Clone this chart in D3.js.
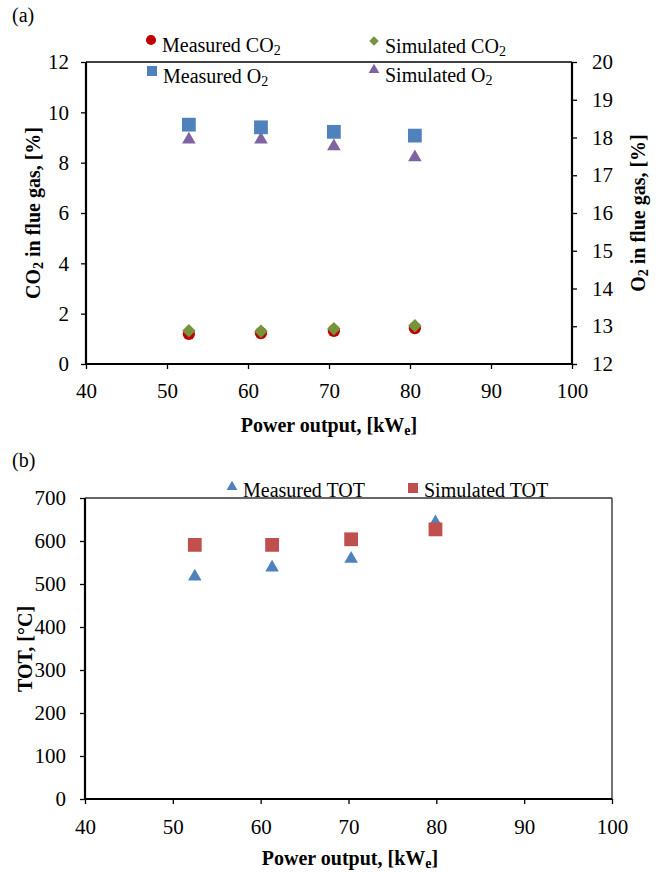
<!DOCTYPE html>
<html>
<head>
<meta charset="utf-8">
<script src="https://cdn.jsdelivr.net/npm/d3@7"></script>
<style>
  body { margin: 0; background: #fff; }
  svg text { font-family: "Liberation Serif", "Times New Roman", serif; }
</style>
</head>
<body>
<div id="chart"></div>
<script>
// Data
const powerA = [52.7, 61.6, 70.6, 80.6];
const measuredCO2 = [1.2, 1.23, 1.32, 1.43];
const simulatedCO2 = [1.32, 1.3, 1.4, 1.52];
const measuredO2 = [18.34, 18.27, 18.15, 18.05];
const simulatedO2 = [18.0, 18.0, 17.82, 17.53];

const powerB = [52.5, 61.3, 70.3, 79.9];
const measuredTOT = [522, 543, 563, 648];
const simulatedTOT = [591, 591, 604, 627];

const xTicks = [40, 50, 60, 70, 80, 90, 100];
const co2Ticks = [0, 2, 4, 6, 8, 10, 12];
const o2Ticks = [12, 13, 14, 15, 16, 17, 18, 19, 20];
const totTicks = [0, 100, 200, 300, 400, 500, 600, 700];

const width = 664, height = 873;
const fontSize = 20;
const tickFont = 21;

const colors = {
    mCO2: "#C00000",
    sCO2: "#77933C",
    mO2: "#4F81BD",
    sO2: "#8064A2",
    mTOT: "#4F81BD",
    sTOT: "#C0504D"
};

var svg = d3.select("#chart").append("svg")
    .attr("width", width)
    .attr("height", height);

// marker shapes
const sym = {
    circle: d3.symbol().type(d3.symbolCircle).size(120),
    square: d3.symbol().type(d3.symbolSquare).size(190),
    triangle: d3.symbol().type(d3.symbolTriangle).size(80),
    diamond: d3.symbol().type(d3.symbolSquare).size(90)
};

// triangles are centred on their bounding box like Excel markers, not the centroid
function shapeTransform(shape, px, py) {
    if (shape == "diamond") return "translate(" + px + "," + py + ") rotate(45)";
    if (shape == "triangle") return "translate(" + px + "," + (py + 2) + ")";
    return "translate(" + px + "," + py + ")";
}

function drawPoints(g, xs, ys, x, y, shape, color) {
    g.selectAll(null)
        .data(xs.map(function (d, i) { return [d, ys[i]]; }))
        .enter().append("path")
        .attr("d", sym[shape])
        .attr("fill", color)
        .attr("transform", function (d) {
            return shapeTransform(shape, x(d[0]), y(d[1]));
        });
}

// text with subscript helper: parts = [[text, isSub, dy], ...]
function richText(g, px, py, parts, opts) {
    opts = opts || {};
    var fs = opts.size || fontSize;
    var t = g.append("text")
        .attr("x", px).attr("y", py)
        .style("font-size", fs + "px")
        .style("font-weight", opts.bold ? "bold" : "normal")
        .attr("text-anchor", opts.anchor || "start")
        .attr("fill", "#000");
    if (opts.rotate) t.attr("transform", "rotate(-90," + px + "," + py + ")");
    parts.forEach(function (p) {
        if (p[1]) {
            t.append("tspan").style("font-size", Math.round(fs * 0.68) + "px")
                .attr("dy", 3).text(p[0]);
        } else {
            t.append("tspan").attr("dy", p[2] || 0).text(p[0]);
        }
    });
    return t;
}

function styleAxis(a) {
    a.select(".domain").remove();
    a.selectAll("line").attr("stroke", "#000").attr("stroke-width", 1.3);
    a.selectAll("text")
        .style("font-family", "'Liberation Serif', 'Times New Roman', serif")
        .style("font-size", tickFont + "px")
        .attr("fill", "#000");
}

function frameLine(g, x1, y1, x2, y2, color, w) {
    g.append("line").attr("x1", x1).attr("x2", x2).attr("y1", y1).attr("y2", y2)
        .attr("stroke", color).attr("stroke-width", w);
}

// ---------- Chart (a) ----------
const xA = d3.scaleLinear().domain([40, 100]).range([86, 572]);
const yCO2 = d3.scaleLinear().domain([0, 12]).range([364, 62]);
const yO2 = d3.scaleLinear().domain([12, 20]).range([364, 62]);

var gA = svg.append("g");

gA.append("text").attr("x", 12).attr("y", 22).style("font-size", fontSize + "px").text("(a)");

styleAxis(gA.append("g").attr("transform", "translate(0,364)")
    .call(d3.axisBottom(xA).tickValues(xTicks).tickSize(5).tickPadding(14)));
styleAxis(gA.append("g").attr("transform", "translate(86,0)")
    .call(d3.axisLeft(yCO2).tickValues(co2Ticks).tickSize(5).tickPadding(12)));
styleAxis(gA.append("g").attr("transform", "translate(572,0)")
    .call(d3.axisRight(yO2).tickValues(o2Ticks).tickSize(5).tickPadding(15)));

frameLine(gA, 86, 62, 572, 62, "#000", 1.5);
frameLine(gA, 86, 364, 572, 364, "#000", 2.2);
frameLine(gA, 86, 62, 86, 364, "#000", 2.2);
frameLine(gA, 572, 62, 572, 364, "#000", 2.2);

drawPoints(gA, powerA, measuredCO2, xA, yCO2, "circle", colors.mCO2);
drawPoints(gA, powerA, simulatedCO2, xA, yCO2, "diamond", colors.sCO2);
drawPoints(gA, powerA, simulatedO2, xA, yO2, "triangle", colors.sO2);
drawPoints(gA, powerA, measuredO2, xA, yO2, "square", colors.mO2);

// legend (a)
const legSym = {
    circle: d3.symbol().type(d3.symbolCircle).size(80),
    square: d3.symbol().type(d3.symbolSquare).size(100),
    diamond: d3.symbol().type(d3.symbolSquare).size(45),
    triangle: d3.symbol().type(d3.symbolTriangle).size(50)
};
const legA = [
    {x: 151, y: 40, shape: "circle", color: colors.mCO2, label: [["Measured CO"], ["2", true]]},
    {x: 374, y: 41, shape: "diamond", color: colors.sCO2, label: [["Simulated CO"], ["2", true]]},
    {x: 152, y: 71, shape: "square", color: colors.mO2, label: [["Measured O"], ["2", true]]},
    {x: 374, y: 70, shape: "triangle", color: colors.sO2, label: [["Simulated O"], ["2", true]]}
];
legA.forEach(function (l) {
    gA.append("path").attr("d", legSym[l.shape]).attr("fill", l.color)
        .attr("transform", shapeTransform(l.shape, l.x, l.y - (l.shape == "triangle" ? 2 : 0)));
    richText(gA, l.x + 11, l.y + 12, l.label);
});

richText(gA, 329, 432, [["Power output, [kW"], ["e", true], ["]", false, -3]], {bold: true, anchor: "middle"});
richText(gA, 40, 213, [["CO"], ["2", true], [" in flue gas, [%]", false, -3]], {bold: true, anchor: "middle", rotate: true});
richText(gA, 645, 213, [["O"], ["2", true], [" in flue gas, [%]", false, -3]], {bold: true, anchor: "middle", rotate: true});

// ---------- Chart (b) ----------
const xB = d3.scaleLinear().domain([40, 100]).range([85, 612]);
const yTOT = d3.scaleLinear().domain([0, 700]).range([799, 498]);

var gB = svg.append("g");

gB.append("text").attr("x", 12).attr("y", 467).style("font-size", fontSize + "px").text("(b)");

styleAxis(gB.append("g").attr("transform", "translate(0,799)")
    .call(d3.axisBottom(xB).tickValues(xTicks).tickSize(5).tickPadding(15)));
styleAxis(gB.append("g").attr("transform", "translate(85,0)")
    .call(d3.axisLeft(yTOT).tickValues(totTicks).tickSize(5).tickPadding(14)));

frameLine(gB, 85, 498, 612, 498, "#333", 1.5);
frameLine(gB, 612, 498, 612, 799, "#444", 1.5);
frameLine(gB, 85, 799, 612, 799, "#000", 2.2);
frameLine(gB, 85, 498, 85, 799, "#000", 2.2);

drawPoints(gB, powerB, measuredTOT, xB, yTOT, "triangle", colors.mTOT);
drawPoints(gB, powerB, simulatedTOT, xB, yTOT, "square", colors.sTOT);

// legend (b)
gB.append("path").attr("d", legSym.triangle).attr("fill", colors.mTOT)
    .attr("transform", "translate(232,487)");
richText(gB, 243, 497, [["Measured TOT"]]);
gB.append("path").attr("d", legSym.square).attr("fill", colors.sTOT)
    .attr("transform", "translate(413,488)");
richText(gB, 424, 497, [["Simulated TOT"]]);

richText(gB, 350, 865, [["Power output, [kW"], ["e", true], ["]", false, -3]], {bold: true, anchor: "middle"});
richText(gB, 32, 649, [["TOT, [°C]"]], {bold: true, anchor: "middle", rotate: true});
</script>
</body>
</html>
